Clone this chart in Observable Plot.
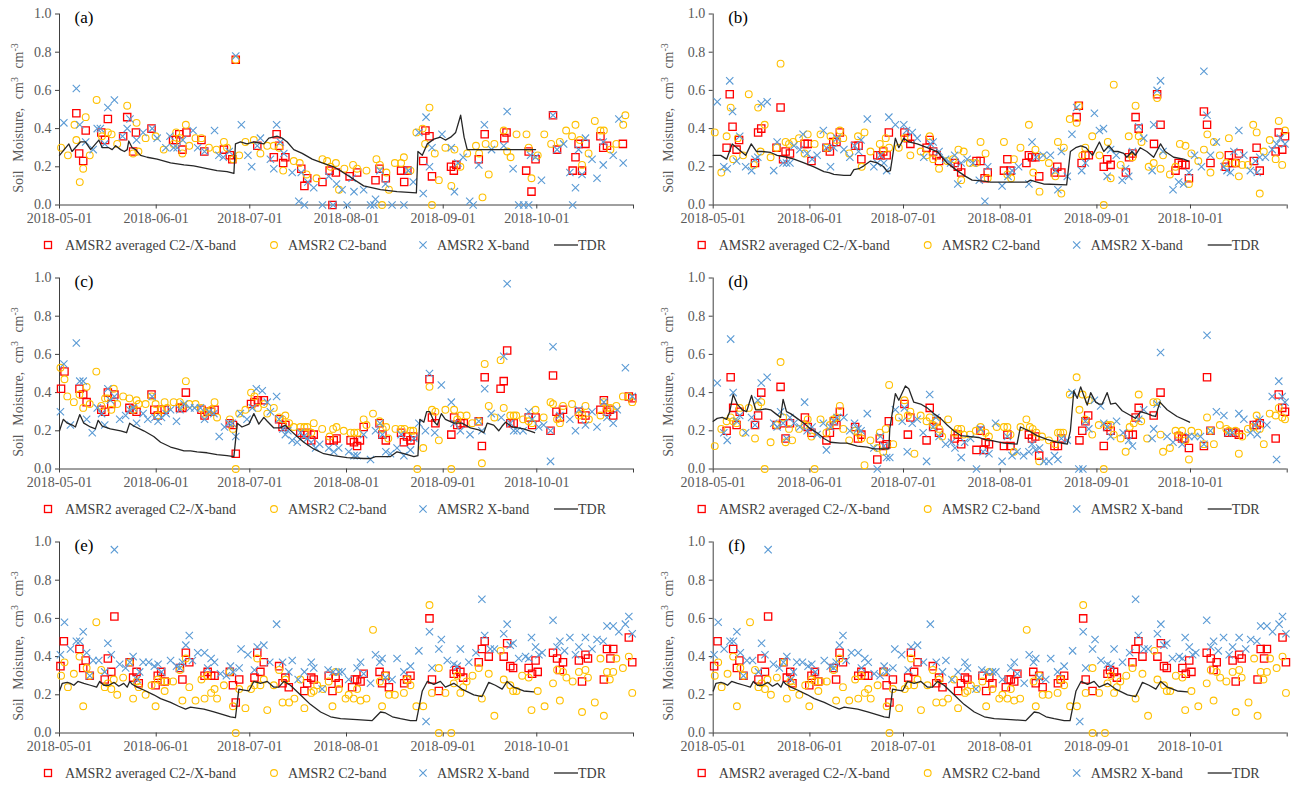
<!DOCTYPE html>
<html><head><meta charset="utf-8">
<script src="https://cdn.jsdelivr.net/npm/d3@7"></script>
<script src="https://cdn.jsdelivr.net/npm/@observablehq/plot@0.6"></script>
<style>
body{margin:0;background:#fff;width:1299px;height:792px;overflow:hidden;position:relative;font-family:"Liberation Serif","Times New Roman","DejaVu Serif",serif;}
.panel{position:absolute;width:649px;height:264px;}
.panel svg{display:block;}
.panel svg, .panel svg text{font-family:"Liberation Serif","Times New Roman","DejaVu Serif",serif !important;}
.legend{position:absolute;left:0;top:233px;}
</style></head><body>
<script>
// ---- data: [days since 2018-05-01, soil moisture (cm3 cm-3)] ----
const tickDates = ["2018-05-01","2018-06-01","2018-07-01","2018-08-01","2018-09-01","2018-10-01","2018-11-01"];
const seriesNames = ["AMSR2 averaged C2-/X-band","AMSR2 C2-band","AMSR2 X-band","TDR"];
const panelLabels = ["(a)","(b)","(c)","(d)","(e)","(f)"];

const aAvg = [[5.4,.48],[6.3,.27],[7.6,.23],[8.4,.39],[13.4,.38],[14.6,.34],[15.5,.45],[20.4,.36],[21.7,.46],[23.6,.28],[24.5,.38],[29.5,.40],[36.4,.34],[37.4,.34],[38.4,.37],[39.4,.29],[40.7,.38],[45.5,.34],[46.4,.28],[52.7,.29],[54.6,.26],[55.4,.24],[56.5,.76],[63.4,.31],[68.7,.25],[69.6,.37],[70.4,.31],[71.7,.22],[72.4,.25],[77.5,.19],[78.5,.10],[79.4,.14],[84.3,.12],[86.6,.18],[87.5,0],[88.6,.17],[93,.15],[95.4,.17],[101.3,.13],[102.6,.19],[104.6,.14],[109.5,.18],[110.5,.12],[111.5,.18],[116.6,.23],[117.3,.39],[118.6,.36],[119.4,.15],[125.5,.20],[126.4,.18],[127.2,.21],[134.4,.24],[136.3,.37],[142.6,.35],[143.3,.38],[149.6,.18],[150.4,.28],[151.3,.07],[152.6,.24],[158.2,.47],[159.5,.29],[164.5,.18],[165.4,.25],[166.4,.32],[167.5,.18],[168.6,.32],[173.4,.36],[174.3,.30],[175.5,.31],[180.6,.32]];
const aC2 = [[0.5,.30],[2.7,.26],[4.8,.42],[5.4,.34],[6.5,.12],[7.6,.19],[8.4,.46],[9.7,.26],[11.9,.55],[13.6,.36],[15.5,.38],[16.7,.37],[18.5,.32],[21.7,.52],[23.6,.27],[24.7,.43],[25.3,.28],[27.6,.35],[30.8,.36],[33.4,.29],[36.6,.32],[37.4,.38],[38.6,.35],[39.4,.27],[40.5,.42],[41.6,.31],[43.6,.35],[45.5,.35],[47.9,.30],[50.3,.29],[52.7,.33],[53.7,.30],[55.7,.24],[56.5,.76],[57.6,.26],[59.6,.33],[62.3,.34],[64.4,.27],[66.6,.31],[68.7,.31],[70.4,.30],[71.7,.18],[75.1,.23],[77,.22],[79.2,.16],[82.4,.14],[84.3,.24],[85.8,.23],[86.9,.20],[88.6,.22],[89.6,.08],[91.3,.19],[94.1,.21],[95.4,.19],[98.4,.18],[101.6,.24],[102.7,.21],[103.4,0],[104.8,.17],[105.6,.08],[107.5,.22],[109.5,.22],[110.4,.25],[112.5,.18],[114.4,.38],[116.4,.40],[117.2,.32],[118.6,.51],[119.4,0],[120.3,.27],[121.6,.13],[123.7,.30],[125.6,.10],[126.6,.29],[128.5,.20],[130.7,.27],[133.5,.31],[134.5,.27],[135.6,.04],[136.6,.32],[137.6,.16],[139.4,.32],[142.4,.39],[143.5,.28],[144.6,.25],[146.5,.37],[149.7,.37],[150.4,.30],[151.3,.14],[153.3,.26],[155.4,.37],[157.6,.32],[160.4,.33],[162.4,.39],[164.3,.36],[165.4,.42],[166.8,.34],[167.5,.21],[169.6,.27],[171.6,.44],[173.4,.39],[174.5,.39],[176.6,.29],[178.5,.32],[180.7,.42],[181.4,.47]];
const aX = [[1.4,.43],[5.4,.61],[6.5,.42],[8.4,.33],[10.8,.29],[12.1,.40],[13.1,.40],[14.5,.32],[15.5,.51],[17.6,.55],[20.2,.36],[21.7,.40],[22.6,.45],[24.7,.34],[26.8,.38],[29.7,.40],[31.3,.35],[34.1,.30],[35.4,.36],[36.6,.30],[37.7,.30],[39.5,.34],[42.8,.39],[44.3,.30],[46.5,.28],[49.7,.39],[51.1,.26],[52.5,.25],[54.4,.28],[56.5,.78],[58.3,.42],[60.4,.26],[61.6,.20],[63.4,.31],[64.4,.35],[67.6,.24],[68.7,.19],[69.6,.42],[70.8,.33],[71.9,.27],[74.6,.17],[76.7,.02],[77.5,.17],[78.5,0],[79.6,.12],[81.5,.09],[84.3,0],[86.3,.15],[87.7,0],[88.8,.11],[90.6,.08],[92.2,0],[93.8,.14],[94.4,.07],[97.5,.08],[99.7,0],[100.8,0],[101.3,.03],[102.7,.18],[104.5,.11],[106.6,0],[110.4,0],[111.8,.18],[113.4,.12],[115.2,.38],[116.6,.06],[117.5,.46],[118.6,.20],[119.4,.30],[122.6,.37],[125.6,.30],[126.6,.07],[127.7,.22],[129.4,.25],[131.5,.02],[132.6,0],[134.4,.21],[136.2,.42],[138.5,.29],[142.4,.31],[143.5,.49],[145.4,.19],[147.2,0],[148.8,0],[150.4,0],[151,.26],[152.6,.25],[154.5,.13],[158.2,.47],[159.5,.29],[161.6,.32],[163.6,.17],[164.5,0],[165.4,.09],[166.4,.29],[167.5,.16],[168.6,.35],[170.7,.24],[172.3,.14],[174.3,.21],[174.3,.33],[177.5,.26],[179.3,.45],[180.7,.22]];
const aTDR = [[0,.26],[2.5,.31],[3,.32],[4,.28],[6.7,.33],[8.3,.33],[10,.29],[12.6,.34],[13.7,.30],[15.8,.30],[16.9,.29],[18,.31],[19.6,.29],[20.8,.28],[21.7,.29],[22.2,.335],[23.3,.30],[24.4,.29],[26,.26],[28.1,.25],[31.3,.24],[35.6,.22],[39.9,.21],[43,.205],[47.3,.19],[50.5,.18],[53.7,.175],[55.9,.165],[56.4,.32],[58,.33],[60.1,.32],[62.3,.33],[65.5,.32],[67.1,.35],[69.8,.36],[71.4,.35],[73,.33],[75.1,.29],[77.8,.27],[81,.24],[84.2,.22],[87.9,.20],[90,.18],[93.3,.145],[97.5,.10],[102.9,.08],[108.2,.07],[114.4,.063],[114.9,.28],[116.3,.26],[117.9,.32],[120,.345],[122.1,.355],[123.7,.34],[125.4,.355],[127,.38],[128.6,.47],[129.7,.355],[130.7,.29],[152.6,.29]];

const bAvg = [[4.3,.30],[5.3,.58],[6.2,.41],[7.5,.29],[8.3,.34],[13.4,.22],[14.4,.38],[15.4,.40],[20.3,.30],[21.6,.51],[22.4,.24],[23.2,.28],[24.6,.27],[29.3,.32],[30.3,.32],[31.5,.23],[36.3,.30],[37.4,.28],[38.5,.33],[39.5,.33],[40.6,.38],[45.5,.31],[46.6,.31],[47.5,.24],[52.6,.26],[53.6,.26],[54.5,.28],[55.6,.26],[56.3,.38],[61.3,.38],[62.4,.35],[63.2,.32],[68.4,.30],[69.4,.34],[70.5,.28],[71.6,.26],[72.4,.23],[77.4,.22],[78.4,.20],[79.5,.17],[84.4,.23],[85.7,.23],[87,.14],[88,.17],[93.2,.18],[94.3,.24],[95.3,.18],[100.4,.22],[101.2,.26],[102.2,.25],[103.3,.25],[104.5,.15],[109.5,.17],[110.3,.20],[111.6,.17],[116.5,.46],[117.2,.52],[118.1,.22],[119.3,.26],[120.4,.26],[125.2,.20],[126.3,.24],[127.4,.21],[132.3,.17],[133.3,.25],[134.4,.27],[135.4,.46],[136.4,.40],[141.3,.32],[142.3,.58],[143.4,.42],[148.2,.18],[149.2,.22],[150.3,.21],[151.4,.21],[152.5,.14],[157.3,.49],[158.3,.42],[159.4,.22],[164.3,.20],[165.3,.26],[166.3,.22],[167.4,.22],[168.5,.27],[173.3,.23],[174.2,.30],[175.2,.18],[180.3,.28],[181.3,.38],[182.4,.29],[183.3,.36]];
const bC2 = [[0.5,.38],[2.6,.17],[4.3,.36],[5.6,.51],[6.4,.24],[7.9,.35],[9.6,.26],[11.4,.58],[13,.21],[14.4,.51],[15.2,.28],[16.5,.42],[18.4,.25],[20.3,.30],[21.6,.74],[23.2,.33],[24.3,.32],[25.6,.33],[27.5,.35],[29.3,.27],[30.3,.37],[32.5,.32],[34.4,.37],[36.3,.30],[37.6,.36],[39.5,.34],[40.6,.39],[41.7,.35],[43.6,.27],[46.4,.36],[47.6,.20],[48.5,.38],[50.4,.28],[53.4,.32],[54.5,.29],[55.3,.35],[56.4,.30],[59.5,.30],[61.3,.35],[63.2,.26],[66.5,.28],[68.4,.26],[69.4,.36],[70.5,.24],[72.4,.19],[75,.23],[76.9,.24],[78.6,.29],[79.5,.13],[80.3,.28],[82.3,.22],[84.2,.22],[85.7,.33],[87.3,.27],[88,.14],[93.2,.33],[94.3,.16],[95.5,.14],[96.4,.24],[98.5,.30],[101.2,.42],[102.6,.17],[103.3,.29],[104.6,.07],[105.4,.25],[107.6,.22],[109.7,.15],[110.5,.33],[111.6,.06],[112.4,.30],[114.3,.45],[116.5,.43],[117.2,.52],[118.3,.26],[119.3,.30],[121.5,.36],[123.8,.26],[125.2,0],[126.5,.33],[127.4,.14],[128.4,.63],[130.6,.21],[133.2,.36],[134.4,.25],[135.4,.52],[136.4,.36],[137.3,.33],[139.6,.20],[141.2,.22],[142.3,.56],[143.4,.19],[144.2,.26],[146.4,.16],[148.2,.20],[149.6,.32],[151.4,.31],[152.5,.11],[153.3,.27],[155.5,.23],[157.3,.29],[158.4,.37],[159.4,.17],[160.5,.33],[162.4,.26],[164.5,.22],[165.3,.35],[167.4,.22],[168.5,.15],[169.6,.21],[171.4,.21],[173.1,.42],[174.2,.38],[175.2,.06],[176.5,.28],[178.4,.34],[180.3,.24],[181.3,.44],[182.4,.21],[183.3,.39]];
const bX = [[1.3,.54],[3.4,.20],[4.5,.19],[5.3,.65],[6.2,.49],[7.5,.23],[8.5,.36],[10.4,.20],[12.3,.18],[13.4,.24],[14.3,.25],[15.4,.53],[17.3,.54],[19.4,.18],[20.5,.33],[22.4,.22],[23.5,.22],[24.6,.22],[25.9,.31],[27.8,.29],[28.8,.37],[30.1,.27],[31.7,.24],[33.3,.26],[35.3,.39],[36.3,.30],[37.6,.20],[38.7,.30],[39.7,.35],[41.9,.29],[43.8,.25],[45.3,.31],[46.6,.28],[47.4,.34],[49.4,.45],[51.5,.20],[52.6,.22],[53.6,.26],[54.7,.22],[55.6,.18],[56.3,.46],[58.4,.42],[61.1,.42],[62,.39],[63.8,.38],[65.4,.35],[67.5,.25],[69.7,.32],[70.5,.33],[72.4,.28],[74.5,.24],[76.1,.22],[77.4,.26],[78.4,.11],[79.5,.22],[81.4,.24],[83.3,.22],[85.3,.13],[87.1,.02],[88,.20],[92.6,.10],[94.5,.15],[95.8,.18],[97.9,.20],[101.2,.11],[102.2,.33],[103.5,.25],[105.8,.26],[108.1,.26],[109.7,.18],[110.5,.08],[111.6,.28],[113.5,.15],[115,.37],[116.5,.51],[118.1,.18],[119.3,.22],[122.2,.48],[123.8,.39],[125.1,.40],[126.3,.15],[127.4,.29],[129.2,.26],[131.1,.13],[132.2,.19],[133.2,.15],[134.4,.28],[136.4,.41],[138,.35],[140.7,.18],[141.2,.42],[142.3,.60],[143.4,.65],[144.2,.28],[147.4,.08],[149.2,.12],[150.8,.11],[152.5,.17],[154.3,.26],[156.5,.20],[157.3,.70],[158.3,.47],[159.4,.26],[161.3,.33],[163.7,.20],[164.7,.18],[165.8,.17],[166.9,.28],[168.5,.39],[170.1,.26],[172.2,.18],[173.8,.23],[174.4,.17],[175.2,.25],[177,.25],[179.2,.29],[180.6,.32],[181.8,.35],[183.3,.32]];
const bTDR = [[0,.26],[2.4,.26],[4.3,.24],[6.1,.32],[8.2,.29],[10.4,.26],[12.2,.32],[13.9,.28],[15.7,.28],[18.4,.275],[20.5,.26],[22.1,.255],[23.7,.25],[25.9,.24],[29.1,.22],[32.3,.20],[35.5,.175],[37.1,.17],[38.7,.16],[41.9,.155],[44,.155],[45.1,.185],[46.7,.19],[48.3,.205],[50.4,.23],[52.6,.22],[54.7,.20],[55.8,.175],[56.8,.18],[58.4,.35],[59.5,.30],[61.1,.35],[62.7,.33],[65.4,.32],[68.6,.30],[71.8,.28],[75,.22],[78.2,.18],[80.9,.15],[83,.13],[86.8,.125],[88.9,.12],[93.2,.12],[100.6,.12],[101.7,.13],[103.8,.12],[105.9,.11],[113.3,.105],[114.5,.28],[116.2,.30],[117.9,.31],[119.5,.30],[121.6,.26],[123.8,.33],[125.2,.28],[126.9,.31],[128.4,.28],[129.9,.28],[131.6,.27],[132.6,.25],[134.2,.28],[135.3,.26],[136.9,.30],[139,.28],[141.2,.25],[143.4,.32],[144.9,.28],[147.6,.25],[150.8,.24],[152.4,.23]];

const cAvg = [[0.5,.42],[1.6,.51],[6.4,.42],[7.6,.39],[8.7,.35],[13.4,.31],[14.6,.30],[15.5,.40],[16.6,.34],[17.6,.39],[22.4,.32],[23.6,.31],[24.7,.30],[29.5,.39],[30.4,.31],[31.5,.28],[32.6,.31],[33.7,.31],[38.6,.32],[39.4,.32],[40.5,.40],[45.5,.31],[46.5,.28],[47.5,.30],[48.6,.30],[49.7,.31],[54.6,.24],[55.6,.23],[56.5,.08],[61.4,.34],[62.5,.35],[63.6,.36],[65.5,.36],[70.4,.26],[71.5,.22],[72.4,.23],[77.2,.19],[78.5,.18],[79.4,.19],[80.7,.15],[81.5,.18],[86.6,.15],[87.9,.15],[88.8,.16],[93.3,.15],[94.4,.14],[95.4,.12],[96.3,.15],[97.5,.22],[102.6,.24],[103.5,.18],[104.6,.15],[109.5,.19],[110.4,.14],[111.4,.17],[112.5,.15],[113.4,.17],[118.6,.47],[119.4,.27],[120.5,.24],[125.6,.18],[126.5,.27],[127.5,.23],[128.5,.24],[129.6,.24],[134.4,.25],[135.4,.12],[136.3,.48],[141.4,.42],[142.4,.46],[143.5,.62],[144.5,.24],[145.6,.24],[150.4,.27],[151.5,.23],[152.6,.27],[157.4,.20],[158.2,.49],[159.3,.30],[160.4,.27],[161.4,.31],[166.5,.30],[167.5,.26],[168.6,.28],[173.4,.31],[174.5,.36],[175.5,.30],[176.4,.31],[177.5,.28],[182.5,.38],[183.6,.37]];
const cC2 = [[0.3,.53],[1.6,.47],[2.5,.38],[4.6,.35],[6.4,.39],[7.6,.32],[8.7,.43],[9.7,.34],[11.8,.51],[13.4,.33],[14.6,.37],[15.5,.37],[16.6,.31],[17.4,.42],[18.5,.34],[20.4,.38],[22.4,.37],[23.6,.31],[24.7,.36],[25.4,.34],[27.6,.34],[29.5,.38],[30.8,.34],[31.5,.28],[32.6,.31],[33.7,.35],[34.5,.32],[36.6,.35],[38.6,.35],[39.4,.33],[40.5,.46],[41.6,.34],[43.6,.34],[45.4,.32],[46.5,.29],[47.5,.30],[48.6,.31],[49.7,.35],[50.5,.27],[54.6,.26],[55.6,.21],[56.5,0],[57.6,.29],[59.6,.31],[61.4,.40],[62.5,.38],[63.6,.32],[65.5,.34],[66.6,.29],[68.7,.32],[70.4,.27],[71.5,.26],[72.4,.28],[73.6,.24],[75.1,.22],[77.2,.22],[78.5,.22],[79.4,.22],[80.7,.19],[81.5,.24],[84.2,.21],[86.6,.17],[87.7,.21],[88.8,.22],[91.1,.20],[93.3,.19],[94.5,.19],[95.6,.19],[97.5,.26],[98.4,.23],[100.5,.29],[102.6,.25],[103.6,.21],[104.7,.22],[105.4,.16],[107.7,.21],[109.5,.21],[110.6,.21],[112.5,.20],[113.4,.20],[114.7,0],[116.6,.11],[118.6,.43],[119.4,.31],[120.5,.30],[121.6,.15],[123.7,.31],[125.6,0],[126.5,.31],[127.5,.26],[128.5,.28],[130.5,.28],[132.3,.24],[134.4,.25],[135.4,.03],[136.3,.55],[137.6,.33],[139.4,.27],[141.4,.57],[142.4,.32],[144.5,.28],[145.6,.28],[146.4,.28],[148.6,.26],[150.4,.25],[151.5,.24],[152.6,.31],[155.2,.27],[157.4,.35],[158.2,.34],[159.5,.26],[160.4,.24],[161.4,.33],[164.3,.34],[166.5,.28],[167.5,.29],[168.6,.33],[169.7,.26],[173.4,.28],[174.5,.35],[175.5,.32],[176.6,.32],[178.5,.33],[180.6,.38],[182.5,.38],[183.6,.35]];
const cX = [[0.3,.30],[1.4,.55],[3.5,.23],[5.4,.66],[6.5,.46],[7.6,.46],[8.7,.26],[10.5,.19],[12.1,.32],[13.5,.29],[14.5,.23],[15.5,.42],[16.3,.36],[17.6,.38],[19.3,.26],[21.2,.28],[22.5,.31],[23.6,.32],[24.7,.24],[26.8,.29],[28.3,.26],[29.7,.38],[30.6,.27],[31.6,.25],[32.7,.27],[34.2,.29],[35.6,.31],[37.5,.25],[38.6,.31],[39.9,.34],[41.8,.32],[43.3,.32],[45.2,.32],[46.5,.26],[47.9,.30],[49.5,.29],[51.2,.17],[52.9,.22],[54.4,.24],[55.4,.24],[56.5,.17],[58,.29],[60.1,.26],[61.8,.32],[63.1,.42],[65,.41],[66.6,.35],[67.6,.30],[69.6,.38],[70.4,.26],[71.6,.21],[72.4,.18],[73.2,.20],[74.6,.15],[76.2,.14],[77.2,.19],[78.3,.17],[79.4,.16],[80.7,.14],[82.1,.11],[83.4,.13],[86.3,.11],[87.9,.09],[89.5,.11],[92.7,.09],[94.4,.07],[95.4,.07],[97.5,.18],[99.7,.05],[101.3,.20],[102.7,.24],[103.5,.18],[104.6,.09],[106.1,.08],[108.2,.11],[109.5,.18],[110.4,.07],[112.5,.10],[113.6,.16],[115.2,.24],[117.3,.20],[118.6,.50],[120.3,.19],[122.4,.44],[125.6,.35],[126.5,.24],[128.5,.20],[131.6,.18],[134.4,.25],[135.4,.20],[136.3,.42],[138.4,.29],[141.6,.27],[142.4,.59],[143.5,.97],[144.5,.24],[145.6,.20],[146.7,.20],[148.6,.20],[150.4,.30],[151.5,.26],[153.6,.22],[155.2,.23],[157.4,.20],[157.4,.04],[158.2,.64],[160.4,.28],[163.6,.26],[165.4,.20],[166.5,.31],[168.6,.23],[170.7,.30],[172.3,.22],[174.5,.35],[175.5,.27],[177.5,.24],[178.8,.31],[181.4,.53],[183.6,.38]];
const cTDR = [[0,.20],[1.2,.26],[2.5,.24],[4.1,.23],[5.1,.22],[6.5,.285],[7.8,.24],[9.9,.22],[11.5,.21],[12.4,.255],[13.7,.225],[16.3,.21],[19.6,.20],[21.5,.19],[22.5,.24],[23.8,.225],[27,.20],[30.2,.17],[32.4,.14],[35.6,.115],[37.7,.105],[39.9,.095],[42,.095],[44.1,.09],[47.3,.085],[50.5,.075],[53.7,.07],[55.9,.065],[57,.24],[58.5,.22],[60.7,.235],[62.3,.29],[63.9,.235],[65.5,.27],[66.6,.25],[68.7,.215],[70.8,.215],[72.4,.23],[73.5,.21],[76.2,.17],[78.3,.14],[81.5,.105],[84.7,.08],[87.9,.07],[90,.065],[92.2,.06],[97.5,.055],[99.7,.055],[101.3,.065],[106.1,.065],[108.2,.09],[110.4,.08],[113.6,.065],[114.9,.07],[115.5,.26],[116.8,.245],[117.7,.30],[118.7,.30],[120,.25],[121.1,.23],[122.4,.29],[123.7,.26],[126.4,.24],[129,.24],[131.7,.215],[134.4,.205],[136,.19],[137.1,.24],[139.2,.23],[140.8,.20],[141.9,.225],[143,.245],[145.1,.22],[148.8,.21],[152.3,.19]];

const dAvg = [[4.3,.20],[5.6,.48],[6.4,.32],[7.5,.23],[8.5,.30],[13.4,.23],[14.4,.28],[15.4,.40],[20.3,.23],[21.6,.43],[22.4,.24],[23.2,.16],[24.6,.24],[29.4,.27],[30.3,.22],[31.5,.19],[36.3,.15],[37.4,.19],[38.7,.25],[39.5,.23],[40.6,.30],[45.5,.22],[46.4,.16],[47.5,.18],[52.6,.05],[53.4,.16],[54.5,.12],[55.6,.13],[56.3,.25],[61.3,.34],[62.4,.18],[63.2,.27],[68.4,.15],[69.4,.32],[70.5,.22],[71.6,.25],[72.4,.19],[77.4,.16],[78.4,.18],[79.5,.13],[84.4,.10],[85.7,.20],[86.8,.10],[87.3,.14],[88.4,.13],[93.2,.12],[94.3,.18],[95.3,.12],[101.2,.18],[102.2,.16],[103.3,.17],[104.5,.07],[109.4,.12],[110.5,.12],[111.6,.16],[117.4,.15],[118.3,.20],[119.3,.25],[120.2,.28],[125.2,.12],[126.3,.22],[127.4,.20],[133.2,.18],[134.5,.18],[135.4,.27],[136.4,.32],[141.2,.28],[143.4,.40],[149.2,.17],[150.3,.16],[151.1,.16],[152.5,.11],[157.3,.12],[158.3,.48],[159.4,.20],[165.1,.19],[166.4,.19],[167.4,.19],[168.5,.18],[173.3,.23],[174.2,.23],[175.2,.24],[180.3,.16],[181.3,.39],[182.4,.32],[183.3,.30]];
const dC2 = [[0.5,.12],[2.6,.21],[4.3,.25],[5.6,.27],[6.4,.25],[7.5,.24],[8.5,.32],[9.6,.19],[11.4,.32],[13.4,.16],[14.4,.33],[15.4,.35],[16.5,0],[18.4,.14],[20.3,.23],[21.6,.56],[22.4,.27],[23.2,.14],[24.3,.21],[25.3,.15],[27.5,.21],[29.3,.23],[30.3,.26],[31.5,.17],[32.5,0],[34.4,.26],[36.3,.19],[37.4,.23],[38.5,.26],[39.5,.27],[40.6,.33],[41.7,.21],[43.6,.15],[45.5,.20],[46.4,.19],[47.5,.16],[48.5,.02],[50.4,.15],[52.6,.11],[53.4,.19],[54.5,.09],[55.3,.21],[56.4,.44],[57.7,.13],[59.5,.27],[61.3,.36],[62.4,.28],[63.2,.30],[64.5,.08],[66.5,.28],[68.4,.25],[69.4,.27],[70.5,.23],[71.6,.25],[72.4,.21],[73.4,.17],[75.3,.26],[77.4,.19],[78.4,.21],[79.5,.21],[80.3,.18],[82.3,.18],[84.2,.20],[85.7,.22],[87.3,.19],[88.4,.17],[90.9,.22],[93.2,.22],[94.3,.22],[95.3,.18],[96.4,.09],[98.5,.22],[100.4,.26],[101.5,.22],[102.4,.21],[103.6,.19],[104.5,.04],[105.4,.17],[107.6,.15],[109.6,.13],[110.5,.19],[111.3,.19],[112.2,.19],[114.3,.39],[116.5,.48],[117.4,.31],[118.4,.39],[119.3,.26],[120.4,.36],[121.5,.18],[123.6,.23],[125.2,0],[126.3,.23],[127.4,.23],[128.4,.18],[130.6,.16],[132.2,.09],[133.5,.22],[134.8,.24],[136.4,.39],[137.2,.25],[139.1,.16],[141.1,.35],[142.3,.35],[143.4,.18],[144.2,.09],[146.4,.11],[148.2,.20],[149.2,.18],[150.3,.20],[151.4,.15],[152.5,.05],[153.3,.20],[155.5,.19],[157.3,.13],[158.3,.27],[159.4,.20],[160.5,.13],[162.4,.23],[164.5,.21],[165.3,.20],[167.4,.20],[168.5,.08],[169.6,.17],[171.4,.21],[173.1,.22],[174.2,.28],[175.2,.21],[176.5,.13],[178.4,.29],[180.3,.28],[181.3,.32],[182.4,.27],[183.3,.26]];
const dX = [[1.3,.45],[3.4,.19],[4.5,.15],[5.6,.68],[6.4,.40],[7.5,.25],[8.5,.28],[10.4,.19],[12.3,.27],[13.4,.23],[14.3,.36],[15.4,.45],[17.3,.48],[19.4,.24],[20.5,.22],[21.6,.30],[22.4,.24],[23.5,.16],[24.6,.27],[25.9,.24],[27.8,.22],[29.3,.35],[30.1,.20],[31.7,.22],[33.3,.18],[35.3,.24],[36.3,.10],[37.6,.22],[38.7,.25],[39.7,.27],[41.9,.27],[43.8,.20],[45.3,.24],[46.4,.21],[47.4,.20],[49.4,.29],[51.5,.11],[52.6,0],[53.6,.17],[54.7,.12],[55.6,.06],[56.6,.06],[58.4,.31],[60.6,.25],[61.3,.32],[62.2,.09],[63.8,.24],[65.4,.26],[67.3,.19],[68.4,.04],[69.4,.39],[70.5,.22],[71.4,.27],[72.4,.17],[74.5,.13],[76.4,.14],[77.5,.11],[79.5,.06],[80.6,.14],[82.5,.16],[84.4,0],[85.7,.21],[86.5,.09],[88.4,.08],[90.5,.24],[92.6,.04],[94.3,.17],[95.8,.07],[97.4,.09],[99.5,.07],[101.2,.09],[102.2,.13],[103.3,.10],[104.6,.11],[106,.04],[107.6,.04],[109.4,.07],[110.5,.05],[111.6,.16],[113.5,.15],[115,.40],[117.2,0],[118.5,0],[119.3,.25],[120.4,.21],[122.2,.36],[124.2,.33],[125.2,.24],[126.3,.22],[127.4,.17],[129.3,.25],[131.4,.19],[133.2,.15],[134.4,.12],[136.4,.26],[138,.31],[140.7,.16],[141.2,.21],[142.3,.34],[143.4,.61],[145.5,.17],[147.4,.14],[150.3,.13],[152.5,.17],[154.3,.17],[156.2,.17],[157.3,.13],[158.3,.70],[159.4,.20],[161.3,.30],[163.7,.28],[165.1,.19],[166.4,.19],[168.5,.29],[170.1,.26],[172.2,.19],[173.8,.23],[174.4,.18],[175.2,.26],[177.5,.23],[179.2,.38],[180.6,.05],[181.3,.46],[182.4,.38],[183.3,.35]];
const dTDR = [[0,.25],[1.3,.265],[2.9,.27],[4.3,.26],[5.3,.30],[6.4,.39],[7.7,.34],[9.3,.31],[10.7,.30],[12.3,.385],[13.6,.31],[15.2,.31],[16.8,.315],[18.4,.31],[20,.29],[21.6,.27],[22.4,.365],[23.5,.30],[24.8,.29],[26.9,.265],[29.1,.24],[31.2,.21],[33.3,.19],[35.5,.16],[37.6,.14],[40.8,.135],[42.9,.135],[46.2,.12],[49.4,.115],[51.5,.105],[54.7,.105],[56.3,.105],[56.6,.21],[58.4,.395],[59.5,.36],[61.6,.435],[62.7,.42],[64.3,.35],[66.5,.34],[68.6,.32],[70.7,.29],[72.9,.265],[75,.23],[77.1,.20],[79.3,.175],[82.5,.17],[85.1,.165],[86.8,.155],[88.9,.15],[93.2,.135],[97.4,.13],[98.5,.22],[101.2,.20],[103.8,.175],[107,.155],[110.3,.14],[113.5,.13],[114.5,.20],[115.6,.41],[116.7,.37],[117.8,.43],[118.9,.38],[119.9,.335],[121,.40],[122.6,.35],[123.7,.34],[124.7,.34],[126.3,.40],[127.4,.34],[129,.345],[131.1,.305],[133.8,.28],[135.4,.265],[137,.30],[139.1,.29],[140.7,.28],[141.8,.275],[143.2,.35],[145.5,.31],[148.7,.275],[152.7,.245]];

const eAvg = [[0.3,.35],[1.4,.48],[6.4,.44],[7.6,.34],[8.4,.38],[9.7,.30],[14.5,.28],[15.5,.39],[16.6,.32],[17.6,.61],[22.5,.37],[23.6,.29],[24.7,.32],[25.4,.26],[30.8,.25],[31.5,.30],[32.6,.32],[33.7,.27],[38.6,.34],[39.4,.28],[40.5,.42],[41.6,.37],[46.5,.30],[47.5,.32],[48.6,.30],[49.7,.30],[54.6,.32],[55.6,.25],[56.5,.16],[57.6,.28],[62.5,.29],[63.4,.42],[64.4,.32],[65.5,.37],[70.4,.35],[71.5,.26],[72.4,.29],[73.5,.24],[78.5,.22],[79.4,.26],[80.7,.29],[81.5,.28],[86.3,.30],[87.5,.22],[88.5,.29],[89.5,.26],[93.8,.24],[94.7,.28],[95.4,.28],[96.5,.27],[97.5,.31],[102.6,.32],[103.4,.26],[104.5,.30],[105.6,.24],[110.5,.26],[111.4,.28],[112.5,.30],[118.6,.60],[119.4,.28],[121.6,.22],[126.4,.31],[127.2,.33],[128.5,.32],[129.4,.29],[134.4,.37],[135.4,.44],[136.3,.48],[137.6,.40],[142.4,.40],[143.5,.47],[144.5,.35],[145.4,.34],[150.4,.34],[151.5,.31],[152.6,.38],[153.3,.32],[158.2,.42],[159.5,.39],[160.4,.33],[161.4,.37],[166.5,.38],[167.5,.27],[168.6,.41],[169.4,.39],[174.5,.28],[175.5,.44],[176.6,.39],[177.5,.44],[182.5,.50],[183.6,.37]];
const eC2 = [[0.5,.30],[1.6,.37],[2.7,.24],[4.6,.31],[6.4,.40],[7.6,.14],[8.7,.34],[9.7,.30],[11.8,.58],[13.4,.33],[14.5,.24],[15.5,.26],[16.6,.23],[17.4,.28],[18.5,.20],[20.4,.29],[22.5,.37],[23.6,.18],[24.7,.27],[25.4,.24],[27.6,.20],[29.5,.25],[30.8,.14],[31.5,.28],[32.6,.27],[33.7,.22],[34.5,.27],[36.4,.27],[38.6,.33],[39.4,.17],[40.5,.39],[41.6,.24],[43.6,.17],[45.5,.28],[46.5,.18],[47.5,.30],[48.6,.21],[49.7,.23],[50.5,.18],[52.7,.25],[54.6,.32],[55.6,.14],[56.5,0],[57.6,.23],[59.6,.13],[61.4,.23],[62.5,.25],[63.4,.39],[64.4,.25],[65.5,.28],[66.6,.12],[68.7,.25],[70.4,.33],[71.5,.16],[72.4,.28],[73.6,.16],[75.3,.18],[77.2,.28],[78.5,.13],[80.7,.21],[81.5,.22],[82.6,.25],[84.5,.23],[86.3,.27],[87.5,.14],[88.5,.32],[89.5,.23],[91.7,.18],[92.7,.20],[94.3,.18],[95.4,.23],[96.5,.17],[98.4,.18],[100.5,.54],[102.7,.27],[103.4,.14],[104.5,.30],[105.6,.20],[107.5,.20],[110.4,.21],[111.4,.28],[112.5,.25],[114.4,.14],[116.6,.14],[118.6,.67],[119.4,.21],[121.6,.34],[121.6,0],[123.7,.21],[125.6,0],[126.4,.26],[127.5,.30],[128.5,.21],[129.4,.24],[130.5,.27],[132.4,.30],[134.4,.34],[135.4,.18],[137.6,.31],[139.4,.09],[141.4,.43],[142.4,.28],[144.5,.25],[145.4,.22],[146.5,.22],[148.3,.30],[150.4,.29],[151.3,.12],[153.3,.22],[155.5,.14],[158.2,.26],[159.5,.33],[160.4,.17],[161.4,.32],[162.5,.29],[164.5,.27],[166.5,.32],[167.5,.11],[168.6,.33],[169.4,.29],[171.6,.16],[173.4,.39],[174.5,.09],[175.5,.32],[176.4,.28],[177.5,.32],[178.5,.39],[180.6,.34],[182.5,.40],[183.6,.21]];
const eX = [[0.3,.41],[1.6,.58],[3.5,.44],[5.4,.48],[6.5,.48],[7.6,.53],[8.7,.42],[9.7,.30],[10.8,.38],[12.6,.38],[14.5,.32],[15.5,.47],[16.6,.41],[17.6,.96],[19.3,.36],[21.2,.34],[22.5,.37],[23.6,.40],[24.9,.28],[25.7,.32],[26.8,.37],[28.6,.37],[30.4,.35],[31.6,.36],[32.7,.32],[35.6,.38],[37.5,.35],[38.6,.34],[39.4,.37],[40.5,.46],[41.6,.51],[42.6,.38],[44.3,.42],[46.5,.42],[47.5,.34],[48.6,.39],[49.7,.37],[51.6,.31],[53.5,.30],[54.8,.35],[55.6,.32],[57.6,.34],[58.2,.44],[60.4,.41],[62.5,.33],[63.4,.45],[65.5,.46],[67.4,.37],[69.6,.57],[71.5,.37],[73.5,.32],[74.6,.38],[76.5,.28],[78.5,.32],[80.7,.37],[81.5,.34],[84.2,.23],[86.1,.33],[87.7,.32],[89.5,.32],[90.6,.32],[92.7,.28],[95.4,.34],[96.5,.37],[97.5,.31],[99.7,.26],[101.3,.41],[102.7,.37],[103.4,.39],[104.5,.29],[106.6,.28],[108.2,.39],[110.4,.32],[112.5,.35],[115.2,.43],[117.5,.06],[118.6,.53],[119.4,.34],[121.6,.44],[122.4,.49],[124.3,.38],[126.4,.36],[127.5,.35],[128.5,.44],[131.2,.37],[133.5,.42],[135.4,.70],[136.3,.51],[138.1,.44],[139.4,.44],[142.4,.52],[143.5,.57],[144.5,.46],[145.4,.47],[147.2,.39],[149.4,.40],[150.4,.39],[151.3,.50],[152.6,.45],[153.7,.41],[154.7,.42],[158.2,.59],[159.5,.45],[160.4,.48],[161.9,.43],[163.6,.50],[165.4,.41],[166.5,.45],[168.6,.50],[170.7,.44],[172.3,.49],[174.3,.48],[175.5,.56],[177.5,.56],[179.3,.53],[181.4,.57],[182.5,.61],[183.6,.52]];
const eTDR = [[0,.22],[0.9,.26],[2.5,.265],[3.5,.26],[4.6,.25],[5.9,.27],[7.8,.26],[9.9,.25],[11.9,.24],[12.9,.27],[14.2,.25],[15.8,.25],[17.5,.265],[19,.245],[20.6,.26],[21.7,.24],[22.5,.27],[23.3,.255],[24.9,.24],[27,.225],[30.2,.20],[32.4,.18],[35.6,.16],[38.2,.14],[40.4,.125],[42,.135],[44.1,.13],[46.3,.125],[49.5,.11],[52.7,.095],[54.8,.085],[56.4,.08],[57.5,.23],[59.1,.225],[60.7,.22],[62.3,.27],[64.4,.26],[66.6,.27],[68.7,.24],[70.3,.24],[71.9,.27],[74,.25],[77.2,.20],[80.4,.15],[83.7,.11],[86.9,.085],[90.1,.075],[95.4,.07],[100.2,.065],[100.8,.075],[102.9,.11],[104.5,.105],[106.7,.085],[109.3,.075],[112.5,.065],[114.4,.065],[116.3,.22],[117.9,.27],[120,.255],[122.1,.27],[123.7,.24],[126.4,.26],[129,.23],[132.8,.20],[135.4,.19],[137.6,.265],[139.7,.25],[141.9,.23],[143.5,.27],[145.6,.24],[148.8,.22],[152,.215]];

// panel (f) shows the same series as panel (e)
const fAvg = eAvg, fC2 = eC2, fX = eX, fTDR = eTDR;

// ---- rendering ----
const FONT = "Liberation Serif, Times New Roman, DejaVu Serif, serif";
const COLORS = {avg:"#FF0000", c2:"#FFC000", x:"#5B9BD5", tdr:"#262626"};
const t0 = Date.UTC(2018,4,1);
const toRows = s => s.map(([d,v]) => ({date:new Date(t0 + d*864e5), v}));
const ticks = tickDates.map(s => new Date(s + "T00:00:00Z"));
const fmt = d3.utcFormat("%Y-%m-%d");
const lastTick = ticks[ticks.length-1].getTime();

const panels = [
  [aAvg,aC2,aX,aTDR],[bAvg,bC2,bX,bTDR],[cAvg,cC2,cX,cTDR],
  [dAvg,dC2,dX,dTDR],[eAvg,eC2,eX,eTDR],[fAvg,fC2,fX,fTDR]
];

panels.forEach(([avg,c2,xb,tdr], i) => {
  const col = i % 2, row = Math.floor(i / 2);
  const ml = col ? 62.7 : 59, mr = col ? 12.3 : 16;
  const div = document.createElement("div");
  div.className = "panel";
  div.style.left = (col*650) + "px";
  div.style.top = (row*264) + "px";
  document.body.appendChild(div);

  const chart = Plot.plot({
    width: 649, height: 232,
    marginLeft: ml, marginRight: mr, marginTop: 13.5, marginBottom: 27.5,
    style: {fontFamily: FONT, fontSize: "14px", color: "#595959", background: "transparent", overflow: "visible"},
    x: {type: "utc", domain: [ticks[0], ticks[ticks.length-1]]},
    y: {domain: [0, 1]},
    marks: [
      Plot.axisX({ticks, tickFormat: d => d.getTime() === lastTick ? "" : fmt(d), tickSize: 4, tickPadding: 4, label: null, stroke: "#404040"}),
      Plot.axisY({ticks: [0,0.2,0.4,0.6,0.8,1.0], tickFormat: d3.format(".1f"), tickSize: 4, tickPadding: 4, label: null, stroke: "#404040"}),
      Plot.ruleY([0], {stroke: "#404040", strokeWidth: 1}),
      Plot.ruleX([ticks[0]], {stroke: "#404040", strokeWidth: 1}),
      Plot.dot(toRows(avg), {x: "date", y: "v", symbol: "square", r: 4.1, stroke: COLORS.avg, strokeWidth: 1.3, fill: "none"}),
      Plot.dot(toRows(c2), {x: "date", y: "v", symbol: "circle", r: 3.4, stroke: COLORS.c2, strokeWidth: 1.1, fill: "none"}),
      Plot.dot(toRows(xb), {x: "date", y: "v", symbol: "times", r: 3.4, stroke: COLORS.x, strokeWidth: 1.1}),
      Plot.line(toRows(tdr), {x: "date", y: "v", stroke: COLORS.tdr, strokeWidth: 1.3}),
      Plot.text([panelLabels[i]], {frameAnchor: "top-left", dx: 15, dy: -3, text: d => d, fontSize: 17, fill: "#000", fontFamily: FONT})
    ]
  });
  div.appendChild(chart);

  // y axis title with superscripts
  const yl = d3.select(chart).append("text")
    .attr("transform", "translate(23,118) rotate(-90)")
    .attr("text-anchor", "middle")
    .attr("font-family", FONT).attr("font-size", 14).attr("fill", "#595959")
    .attr("word-spacing", "5px");
  yl.append("tspan").text("Soil Moisture, cm");
  yl.append("tspan").attr("dy", -5).attr("font-size", 10).text("3");
  yl.append("tspan").attr("dy", 5).text(" cm");
  yl.append("tspan").attr("dy", -5).attr("font-size", 10).text("-3");

  // legend below the chart
  const lg = d3.select(div).append("svg").attr("class", "legend")
    .attr("width", 649).attr("height", 24)
    .attr("font-family", FONT).attr("font-size", 14).attr("fill", "#404040");
  const cy = 12;
  const sx = ml - 11, cx = ml + 215, xx = ml + 364, lx = ml + 495;
  lg.append("rect").attr("x", sx-3.5).attr("y", cy-3.5).attr("width", 7).attr("height", 7)
    .attr("fill", "none").attr("stroke", COLORS.avg).attr("stroke-width", 1.3);
  lg.append("text").attr("x", sx+17).attr("y", cy).attr("dy", "0.35em").text(seriesNames[0]);
  lg.append("circle").attr("cx", cx).attr("cy", cy).attr("r", 3.4)
    .attr("fill", "none").attr("stroke", COLORS.c2).attr("stroke-width", 1.1);
  lg.append("text").attr("x", cx+14).attr("y", cy).attr("dy", "0.35em").text(seriesNames[1]);
  lg.append("path").attr("transform", `translate(${xx},${cy})`).attr("d", d3.symbol(d3.symbolTimes, Math.PI*3.4*3.4)())
    .attr("fill", "none").attr("stroke", COLORS.x).attr("stroke-width", 1.1);
  lg.append("text").attr("x", xx+14).attr("y", cy).attr("dy", "0.35em").text(seriesNames[2]);
  lg.append("line").attr("x1", lx).attr("x2", lx+24).attr("y1", cy).attr("y2", cy)
    .attr("stroke", COLORS.tdr).attr("stroke-width", 1.3);
  lg.append("text").attr("x", lx+24).attr("y", cy).attr("dy", "0.35em").text(seriesNames[3]);
});
</script>
</body></html>
